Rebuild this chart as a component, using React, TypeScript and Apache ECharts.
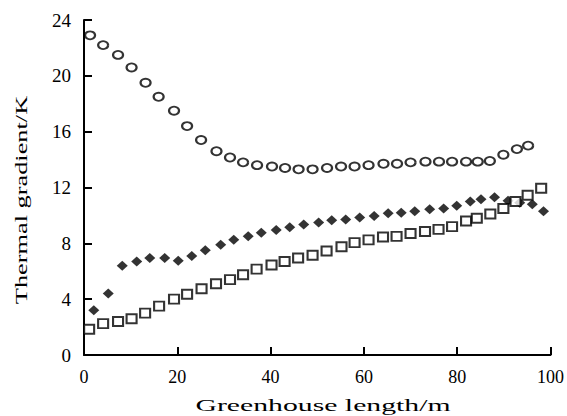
import React, { useEffect, useRef } from "react";
import * as echarts from "echarts";

const xTicks = [0, 20, 40, 60, 80, 100];
const yTicks = [0, 4, 8, 12, 16, 20, 24];

const circleX = [1.3, 4.1, 7.3, 10.2, 13.2, 16.0, 19.3, 22.1, 25.1, 28.4, 31.3, 34.1, 37.1, 40.3, 43.1, 46.0, 49.0, 52.1, 55.1, 58.0, 61.0, 64.2, 67.1, 70.0, 73.2, 76.1, 78.9, 81.9, 84.4, 87.0, 89.9, 92.8, 95.2];
const circleY = [22.9, 22.2, 21.5, 20.6, 19.5, 18.5, 17.5, 16.4, 15.4, 14.6, 14.15, 13.8, 13.6, 13.5, 13.4, 13.3, 13.3, 13.4, 13.5, 13.5, 13.6, 13.7, 13.7, 13.8, 13.85, 13.85, 13.85, 13.85, 13.85, 13.9, 14.35, 14.75, 15.0];

const diamondX = [2.1, 5.2, 8.2, 11.3, 14.1, 17.3, 20.2, 23.1, 26.0, 29.3, 32.1, 35.2, 38.0, 41.2, 44.1, 47.1, 50.3, 53.1, 56.1, 59.1, 62.2, 65.2, 68.0, 70.9, 74.1, 77.1, 79.9, 82.8, 85.1, 88.0, 90.9, 93.4, 96.1, 98.5];
const diamondY = [3.2, 4.4, 6.4, 6.7, 6.95, 6.95, 6.75, 7.1, 7.5, 7.9, 8.25, 8.5, 8.75, 8.95, 9.15, 9.35, 9.5, 9.65, 9.7, 9.85, 9.95, 10.15, 10.2, 10.3, 10.45, 10.5, 10.7, 11.0, 11.15, 11.3, 11.05, 10.9, 10.8, 10.3];

const squareX = [1.1, 4.1, 7.3, 10.2, 13.1, 16.1, 19.3, 22.1, 25.2, 28.3, 31.3, 34.1, 37.0, 40.2, 43.0, 45.9, 49.0, 52.0, 55.2, 58.0, 61.0, 64.1, 67.0, 70.0, 73.1, 76.0, 78.9, 81.9, 84.2, 87.1, 89.9, 92.5, 95.1, 98.0];
const squareY = [1.85, 2.25, 2.4, 2.6, 3.0, 3.5, 4.0, 4.35, 4.75, 5.1, 5.4, 5.75, 6.15, 6.45, 6.7, 6.95, 7.15, 7.45, 7.75, 8.05, 8.25, 8.45, 8.5, 8.7, 8.85, 9.0, 9.2, 9.6, 9.8, 10.1, 10.5, 11.0, 11.45, 11.95];

const xTitle = "Greenhouse length/m";
const yTitle = "Thermal gradient/K";

const pairs = (xs: number[], ys: number[]) => xs.map((x, i) => [x, ys[i]]);

export default function App() {
  const ref = useRef<HTMLDivElement>(null);
  useEffect(() => {
    if (!ref.current) return;
    const chart = echarts.init(ref.current, null, { renderer: "svg" });
    const font = "'Liberation Serif', 'Times New Roman', serif";
    const axisLine = { show: true, lineStyle: { color: "#000", width: 2 } };
    chart.setOption({
      animation: false,
      backgroundColor: "#fff",
      grid: { left: 84, right: 16, top: 20, bottom: 61, containLabel: false },
      xAxis: {
        type: "value",
        min: xTicks[0],
        max: xTicks[xTicks.length - 1],
        interval: 20,
        axisLine,
        axisTick: { show: true, inside: true, length: 8, lineStyle: { color: "#000", width: 2 } },
        axisLabel: { color: "#000", fontFamily: font, fontSize: 18, margin: 13 },
        splitLine: { show: false },
      },
      yAxis: {
        type: "value",
        min: yTicks[0],
        max: yTicks[yTicks.length - 1],
        interval: 4,
        axisLine,
        axisTick: { show: true, inside: true, length: 8, lineStyle: { color: "#000", width: 2 } },
        axisLabel: { color: "#000", fontFamily: font, fontSize: 19, margin: 13 },
        splitLine: { show: false },
      },
      graphic: [
        {
          type: "text",
          x: 323,
          y: 405,
          scaleX: 1.75,
          style: {
            text: xTitle,
            fill: "#000",
            font: `17px ${font}`,
            textAlign: "center",
            textVerticalAlign: "middle",
          },
        },
        {
          type: "text",
          x: 21,
          y: 200,
          rotation: Math.PI / 2,
          scaleX: 1.55,
          style: {
            text: yTitle,
            fill: "#000",
            font: `17px ${font}`,
            textAlign: "center",
            textVerticalAlign: "middle",
          },
        },
      ],
      series: [
        {
          type: "scatter",
          data: pairs(circleX, circleY),
          symbol: "circle",
          symbolSize: [10, 8],
          itemStyle: { color: "#fff", borderColor: "#000", borderWidth: 2 },
        },
        {
          type: "scatter",
          data: pairs(diamondX, diamondY),
          symbol: "diamond",
          symbolSize: [11, 10],
          itemStyle: { color: "#000" },
        },
        {
          type: "scatter",
          data: pairs(squareX, squareY),
          symbol: "rect",
          symbolSize: [10, 9],
          itemStyle: { color: "#fff", borderColor: "#000", borderWidth: 2 },
        },
      ],
    });
    return () => chart.dispose();
  }, []);
  return <div ref={ref} style={{ width: 567, height: 416, position: "absolute", left: 0, top: 0 }} />;
}
